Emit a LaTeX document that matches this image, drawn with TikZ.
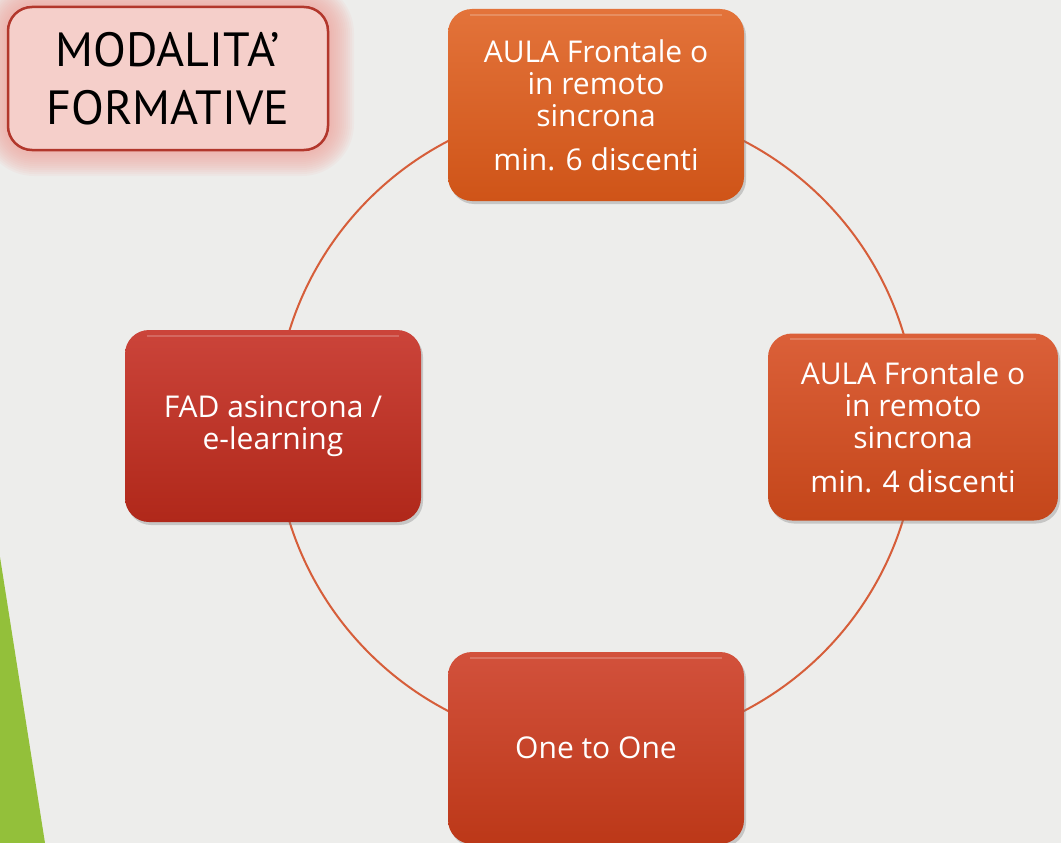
\documentclass[tikz,border=0pt]{standalone}
\usepackage{fontspec}
\usepackage{xcolor}
\usepackage{tikz}
\usetikzlibrary{shadows}
\newfontfamily\boxfont{Open Sans}
\newfontfamily\titlefont{PT Sans}
\definecolor{canvas}{HTML}{EDEDEB}
\definecolor{facetgreen}{HTML}{93C03A}
\definecolor{ring}{HTML}{D65E3A}
\definecolor{titlefill}{HTML}{F5CFCA}
\definecolor{titleedge}{HTML}{B2372C}
\definecolor{glow}{HTML}{EE9F97}
\definecolor{orangetop}{HTML}{E3733A}
\definecolor{orangebot}{HTML}{CF5418}
\definecolor{rusttop}{HTML}{DB6039}
\definecolor{rustbot}{HTML}{C4461A}
\definecolor{redtop}{HTML}{CB443A}
\definecolor{redbot}{HTML}{B0281A}
\definecolor{bricktop}{HTML}{D2513C}
\definecolor{brickbot}{HTML}{BC3818}
\tikzset{
    Stage/.style = {rounded corners=24pt,minimum width=296pt,minimum height=192pt,
        inner sep=0pt,text=white,align=center,
        font=\boxfont\fontsize{30}{32}\selectfont,
        drop shadow={opacity=.35,shadow xshift=2pt,shadow yshift=-3pt}},
    Shade/.style 2 args = {top color=#1,bottom color=#2},
    Title/.style = {rounded corners=24pt,minimum width=320pt,minimum height=143pt,
        fill=titlefill,draw=titleedge,line width=2.5pt,align=center,
        font=\titlefont\fontsize{48}{58}\selectfont}
}
\begin{document}
\begin{tikzpicture}[x=1pt,y=-1pt]
        \fill[canvas] (0,0) rectangle (1061,843);
        \useasboundingbox (0,0) rectangle (1061,843);
        % pink halo behind the title
        \foreach \G in {2,4,...,26}
            {\fill[glow,opacity=.08,rounded corners=26pt+\G*1pt] (8-\G,7-\G) rectangle (328+\G,150+\G);}
        \fill[facetgreen] (0,557) -- (45,843) -- (0,843) -- cycle;
        \coordinate (Ctr) at (596,426);
        \draw[ring,line width=2pt] (Ctr) circle[radius=321];
        \node[Title] (Title) at (168,78.5) {MODALITA’\\FORMATIVE};
        \node[Stage,Shade={orangetop}{orangebot}] (Aula6) at (596,105)
            {AULA Frontale o\\in remoto\\sincrona\\[12pt]min. 6 discenti};
        \node[Stage,Shade={rusttop}{rustbot},minimum width=290pt,minimum height=187pt] (Aula4) at (913,427)
            {AULA Frontale o\\in remoto\\sincrona\\[12pt]min. 4 discenti};
        \node[Stage,Shade={redtop}{redbot}] (Fad) at (273,426) {FAD asincrona /\\e-learning};
        \node[Stage,Shade={bricktop}{brickbot}] (One) at (596,748) {One to One};
        % light streak along the top edge
        \foreach \B in {Aula6,Aula4,Fad,One}
            {\draw[white,opacity=.2,line width=2pt] ([xshift=22pt,yshift=-6pt]\B.north west) -- ([xshift=-22pt,yshift=-6pt]\B.north east);}
\end{tikzpicture}
\end{document}
